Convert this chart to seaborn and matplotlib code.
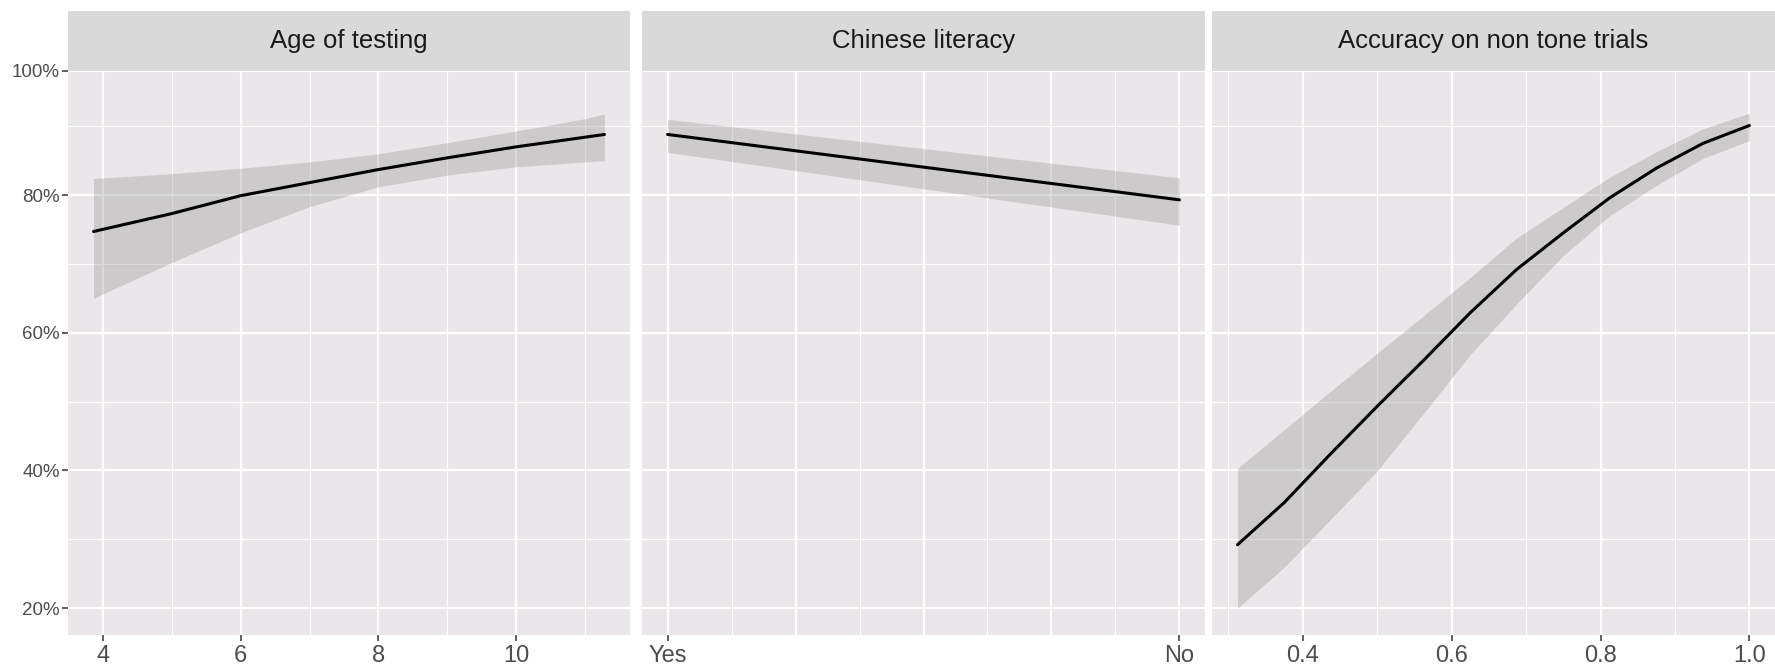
import numpy as np
import pandas as pd
import matplotlib
matplotlib.use("Agg")
import matplotlib.pyplot as plt
import seaborn as sns

# --- predicted accuracy with 95% intervals, one block per predictor ---
age_x = [3.866, 5, 6, 7, 8, 9, 10, 11, 11.28]
age_fit = [0.747, 0.773, 0.799, 0.818, 0.837, 0.854, 0.870, 0.884, 0.888]
age_hi = [0.824, 0.831, 0.839, 0.848, 0.860, 0.876, 0.893, 0.911, 0.918]
age_lo = [0.650, 0.702, 0.745, 0.783, 0.812, 0.829, 0.841, 0.848, 0.850]

lit_labels = ["Yes", "No"]
lit_x = [0.0, 1.0]
lit_fit = [0.888, 0.793]
lit_hi = [0.910, 0.825]
lit_lo = [0.862, 0.756]

acc_x = [0.3125, 0.375, 0.4375, 0.5, 0.5625, 0.625, 0.6875, 0.75, 0.8125, 0.875, 0.9375, 1.0]
acc_fit = [0.292, 0.353, 0.424, 0.493, 0.560, 0.629, 0.692, 0.745, 0.796, 0.839, 0.875, 0.901]
acc_hi = [0.403, 0.459, 0.515, 0.570, 0.625, 0.680, 0.738, 0.782, 0.826, 0.863, 0.896, 0.919]
acc_lo = [0.200, 0.259, 0.329, 0.399, 0.483, 0.568, 0.642, 0.712, 0.770, 0.814, 0.853, 0.879]

titles = ["Age of testing", "Chinese literacy", "Accuracy on non tone trials"]
y_ticks = [0.2, 0.4, 0.6, 0.8]
y_tick_labels = ["20%", "40%", "60%", "80%", "100%"]

sns.set_theme(style="white")
plt.rcParams["font.family"] = ["Liberation Sans Narrow", "Liberation Sans", "DejaVu Sans"]

PANEL_BG = "#EBE6EA"
STRIP_BG = "#D9D9D9"
BAND = "#999999"
TICK_COL = "#4D4D4D"

W, H = 1775, 669
fig = plt.figure(figsize=(W / 100, H / 100), dpi=100)
fig.patch.set_facecolor("white")

panel_px = [(68, 630), (642, 1205), (1212, 1775)]
ax_top, ax_bot = 70.7, 635.0
strip_top = 10.7

ylo, yhi = 0.1608, 0.9806

frames = [
    pd.DataFrame({"x": age_x, "fit": age_fit, "lo": age_lo, "hi": age_hi}),
    pd.DataFrame({"x": lit_x, "fit": lit_fit, "lo": lit_lo, "hi": lit_hi}),
    pd.DataFrame({"x": acc_x, "fit": acc_fit, "lo": acc_lo, "hi": acc_hi}),
]

for i, ((l, r), df, title) in enumerate(zip(panel_px, frames, titles)):
    ax = fig.add_axes([l / W, 1 - ax_bot / H, (r - l) / W, (ax_bot - ax_top) / H])
    ax.set_facecolor(PANEL_BG)
    for s in ax.spines.values():
        s.set_visible(False)

    ax.fill_between(df["x"], df["lo"], df["hi"], color=BAND, alpha=0.36,
                    linewidth=0, zorder=2)
    sns.lineplot(data=df, x="x", y="fit", ax=ax, color="black", linewidth=2.2,
                 zorder=3, legend=False)
    ax.set_xlabel("")
    ax.set_ylabel("")

    xmin, xmax = df["x"].min(), df["x"].max()
    pad = 0.05 * (xmax - xmin)
    ax.set_xlim(xmin - pad, xmax + pad)
    ax.set_ylim(ylo, yhi)

    # x breaks
    if i == 0:
        ax.set_xticks([4, 6, 8, 10])
        ax.set_xticklabels(["4", "6", "8", "10"])
        ax.set_xticks([5, 7, 9, 11], minor=True)
    elif i == 1:
        ax.set_xticks(lit_x)
        ax.set_xticklabels(lit_labels)
        ax.set_xticks([0.125, 0.375, 0.625, 0.875], minor=True)
        for gx in (0.25, 0.5, 0.75):
            ax.axvline(gx, color="white", linewidth=1.6, zorder=0.5)
    else:
        ax.set_xticks([0.4, 0.6, 0.8, 1.0])
        ax.set_xticklabels(["0.4", "0.6", "0.8", "1.0"])
        ax.set_xticks([0.3, 0.5, 0.7, 0.9], minor=True)

    ax.set_yticks(y_ticks + [yhi])
    ax.set_yticks([0.3, 0.5, 0.7, 0.9], minor=True)
    if i == 0:
        ax.set_yticklabels(y_tick_labels)
        ax.tick_params(axis="y", which="major", left=True, length=4, width=1.1,
                       color="#333333", labelsize=13.5, labelcolor=TICK_COL, pad=2)
    else:
        ax.set_yticklabels([])
        ax.tick_params(axis="y", which="major", left=False, length=0)
    ax.tick_params(axis="y", which="minor", left=False, length=0)

    ax.tick_params(axis="x", which="major", bottom=True, length=4, width=1.1,
                   color="#333333", labelsize=17, labelcolor=TICK_COL, pad=3)
    ax.tick_params(axis="x", which="minor", bottom=False, length=0)

    ax.grid(True, which="major", color="white", linewidth=1.6, zorder=0)
    ax.grid(True, which="minor", color="white", linewidth=0.8, zorder=0)
    ax.set_axisbelow(True)

    # facet strip above the panel
    sax = fig.add_axes([l / W, 1 - ax_top / H, (r - l) / W, (ax_top - strip_top) / H])
    sax.set_facecolor(STRIP_BG)
    sax.set_xticks([])
    sax.set_yticks([])
    for s in sax.spines.values():
        s.set_visible(False)
    sax.text(0.5, 0.5, title, ha="center", va="center", fontsize=18.5,
             color="#1A1A1A", transform=sax.transAxes)

fig.savefig("out.png", dpi=100, facecolor="white")
